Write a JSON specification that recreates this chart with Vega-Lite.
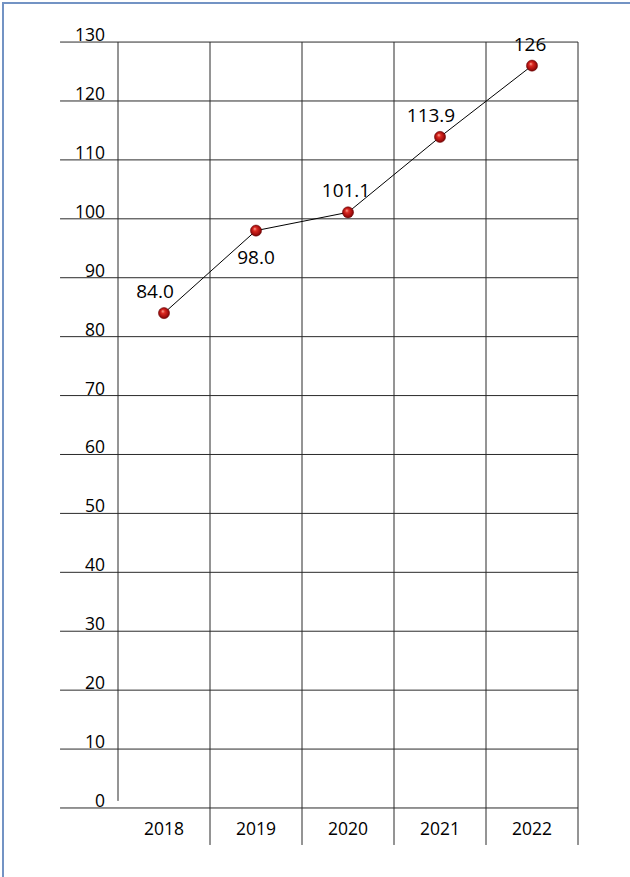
{
  "$schema": "https://vega.github.io/schema/vega-lite/v6.json",
  "width": 640,
  "height": 890,
  "autosize": {"type": "none"},
  "padding": {"left": 3, "top": 3, "right": 0, "bottom": 0},
  "background": "white",
  "config": {"view": {"stroke": "#7393c4", "strokeWidth": 2}, "font": "Open Sans", "text": {"font": "Open Sans", "color": "#000000"}},
  "datasets": {
    "pts": [
      {"year": 2018, "value": 84.0, "label": "84.0"},
      {"year": 2019, "value": 98.0, "label": "98.0"},
      {"year": 2020, "value": 101.1, "label": "101.1"},
      {"year": 2021, "value": 113.9, "label": "113.9"},
      {"year": 2022, "value": 126, "label": "126"}
    ],
    "yticks": [
      {"v": 0}, {"v": 10}, {"v": 20}, {"v": 30}, {"v": 40}, {"v": 50}, {"v": 60},
      {"v": 70}, {"v": 80}, {"v": 90}, {"v": 100}, {"v": 110}, {"v": 120}, {"v": 130}
    ],
    "bounds": [{"b": 2018.5}, {"b": 2019.5}, {"b": 2020.5}, {"b": 2021.5}, {"b": 2022.5}]
  },
  "layer": [
    {
      "data": {"name": "yticks"},
      "mark": {"type": "rule", "color": "#2a2a2a", "strokeWidth": 1},
      "encoding": {
        "y": {"field": "v", "type": "quantitative", "scale": {"domain": [-14.43, 136.63], "nice": false, "zero": false}, "axis": null},
        "x": {"datum": 2016.87, "type": "quantitative", "scale": {"domain": [2016.25, 2023.2065], "nice": false, "zero": false}, "axis": null},
        "x2": {"datum": 2022.5}
      }
    },
    {
      "data": {"name": "bounds"},
      "mark": {"type": "rule", "color": "#2a2a2a", "strokeWidth": 1},
      "encoding": {
        "x": {"field": "b", "type": "quantitative", "scale": {"domain": [2016.25, 2023.2065], "nice": false, "zero": false}, "axis": null},
        "y": {"datum": 130, "type": "quantitative", "scale": {"domain": [-14.43, 136.63], "nice": false, "zero": false}, "axis": null},
        "y2": {"datum": -6.28}
      }
    },
    {
      "data": {"values": [{}]},
      "mark": {"type": "rule", "color": "#2a2a2a", "strokeWidth": 1},
      "encoding": {
        "x": {"datum": 2017.5, "type": "quantitative", "scale": {"domain": [2016.25, 2023.2065], "nice": false, "zero": false}, "axis": null},
        "y": {"datum": 130, "type": "quantitative", "scale": {"domain": [-14.43, 136.63], "nice": false, "zero": false}, "axis": null},
        "y2": {"datum": 1.2}
      }
    },
    {
      "data": {"name": "yticks"},
      "mark": {"type": "text", "align": "right", "baseline": "alphabetic", "dy": -1, "fontSize": 17.5},
      "encoding": {
        "y": {"field": "v", "type": "quantitative", "scale": {"domain": [-14.43, 136.63], "nice": false, "zero": false}, "axis": null},
        "x": {"datum": 2017.36, "type": "quantitative", "scale": {"domain": [2016.25, 2023.2065], "nice": false, "zero": false}, "axis": null},
        "text": {"field": "v", "type": "quantitative", "format": "d"}
      }
    },
    {
      "data": {"name": "pts"},
      "mark": {"type": "text", "align": "center", "baseline": "middle", "fontSize": 17.5},
      "encoding": {
        "x": {"field": "year", "type": "quantitative", "scale": {"domain": [2016.25, 2023.2065], "nice": false, "zero": false}, "axis": null},
        "y": {"datum": -3.73, "type": "quantitative", "scale": {"domain": [-14.43, 136.63], "nice": false, "zero": false}, "axis": null},
        "text": {"field": "year", "type": "ordinal"}
      }
    },
    {
      "data": {"name": "pts"},
      "mark": {"type": "line", "color": "#000000", "strokeWidth": 1},
      "encoding": {
        "x": {"field": "year", "type": "quantitative", "scale": {"domain": [2016.25, 2023.2065], "nice": false, "zero": false}, "axis": null},
        "y": {"field": "value", "type": "quantitative", "scale": {"domain": [-14.43, 136.63], "nice": false, "zero": false}, "axis": null}
      }
    },
    {
      "data": {"name": "pts"},
      "mark": {
        "type": "point", "filled": true, "opacity": 1, "size": 125,
        "fill": {"gradient": "radial", "x1": 0.38, "y1": 0.32, "r1": 0, "x2": 0.5, "y2": 0.5, "r2": 0.55,
          "stops": [{"offset": 0, "color": "#ffb0a0"}, {"offset": 0.3, "color": "#dd2a22"}, {"offset": 0.75, "color": "#a00c0c"}, {"offset": 1, "color": "#5a0000"}]},
        "stroke": "#6a0505", "strokeWidth": 0.5
      },
      "encoding": {
        "x": {"field": "year", "type": "quantitative", "scale": {"domain": [2016.25, 2023.2065], "nice": false, "zero": false}, "axis": null},
        "y": {"field": "value", "type": "quantitative", "scale": {"domain": [-14.43, 136.63], "nice": false, "zero": false}, "axis": null}
      }
    },
    {
      "data": {"name": "pts"},
      "transform": [{"filter": "datum.year == 2018 || datum.year == 2021"}],
      "mark": {"type": "text", "align": "center", "baseline": "middle", "fontSize": 19, "dx": -9, "dy": -21},
      "encoding": {
        "x": {"field": "year", "type": "quantitative", "scale": {"domain": [2016.25, 2023.2065], "nice": false, "zero": false}, "axis": null},
        "y": {"field": "value", "type": "quantitative", "scale": {"domain": [-14.43, 136.63], "nice": false, "zero": false}, "axis": null},
        "text": {"field": "label"}
      }
    },
    {
      "data": {"name": "pts"},
      "transform": [{"filter": "datum.year == 2020 || datum.year == 2022"}],
      "mark": {"type": "text", "align": "center", "baseline": "middle", "fontSize": 19, "dx": -2, "dy": -21},
      "encoding": {
        "x": {"field": "year", "type": "quantitative", "scale": {"domain": [2016.25, 2023.2065], "nice": false, "zero": false}, "axis": null},
        "y": {"field": "value", "type": "quantitative", "scale": {"domain": [-14.43, 136.63], "nice": false, "zero": false}, "axis": null},
        "text": {"field": "label"}
      }
    },
    {
      "data": {"name": "pts"},
      "transform": [{"filter": "datum.year == 2019"}],
      "mark": {"type": "text", "align": "center", "baseline": "middle", "fontSize": 19, "dx": 0, "dy": 27},
      "encoding": {
        "x": {"field": "year", "type": "quantitative", "scale": {"domain": [2016.25, 2023.2065], "nice": false, "zero": false}, "axis": null},
        "y": {"field": "value", "type": "quantitative", "scale": {"domain": [-14.43, 136.63], "nice": false, "zero": false}, "axis": null},
        "text": {"field": "label"}
      }
    }
  ]
}
